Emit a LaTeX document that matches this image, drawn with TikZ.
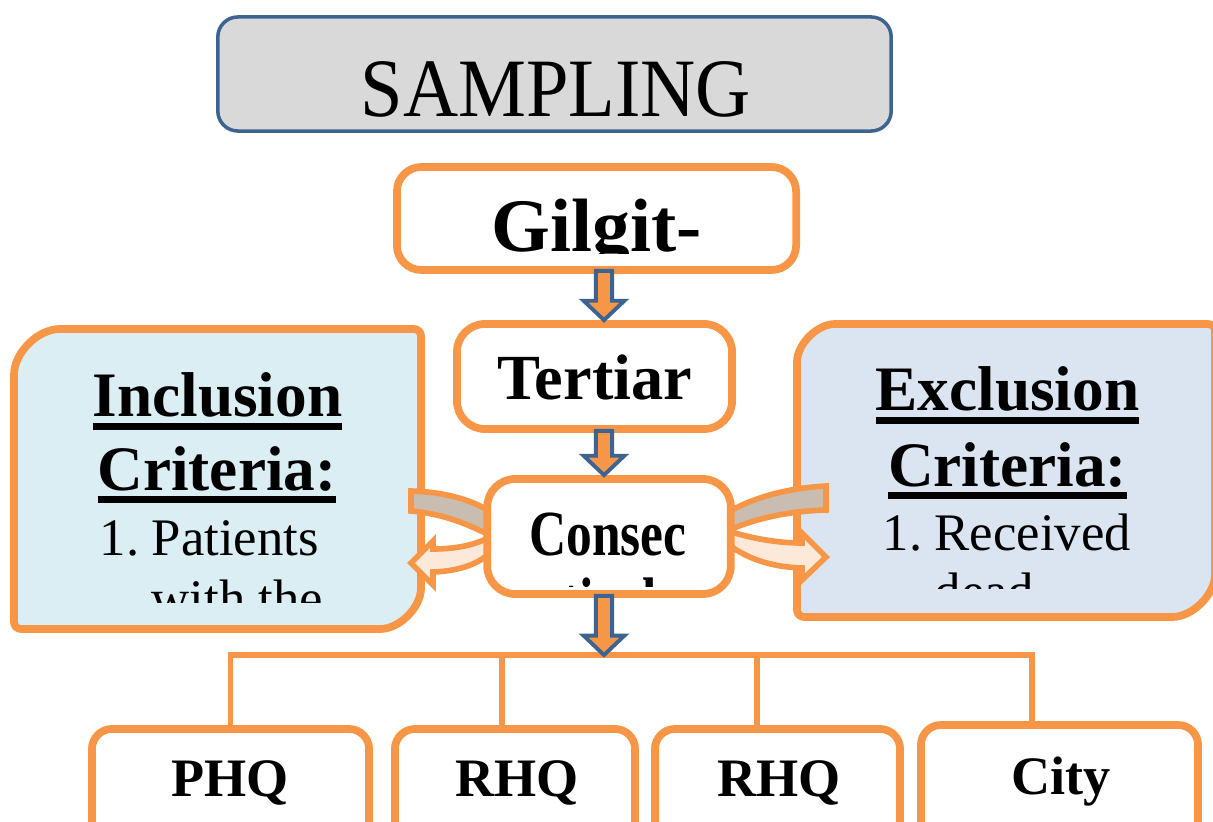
\documentclass[tikz,border=0pt]{standalone}
\usepackage{graphicx}
\usepackage{fontspec}
\setmainfont{Liberation Serif}
\usetikzlibrary{positioning, calc}

\definecolor{boxorange}{HTML}{F79646}
\definecolor{headblue}{HTML}{3D6390}
\definecolor{headgray}{HTML}{D9D9D9}
\definecolor{inclblue}{HTML}{DAEEF3}
\definecolor{exclblue}{HTML}{DBE5F1}
\definecolor{bandgray}{HTML}{C9BDB1}
\definecolor{bandpeach}{HTML}{FDE9D9}

\newcommand{\headfont}{\fontsize{23.6pt}{26pt}\selectfont}
\newcommand{\regionfont}{\fontsize{21.5pt}{24pt}\selectfont\bfseries}
\newcommand{\stepfont}{\fontsize{18.3pt}{20pt}\selectfont\bfseries}
\newcommand{\critfont}{\fontsize{18pt}{20pt}\selectfont\bfseries}
\newcommand{\itemfont}{\fontsize{15pt}{17pt}\selectfont}
\newcommand{\sitefont}{\fontsize{15.4pt}{17pt}\selectfont\bfseries}
\newcommand{\critul}[1]{\setbox0=\hbox{#1}\rlap{\rule[-3.7pt]{\wd0}{2pt}}\box0}
\newcommand{\blockdown}[2]{%
  \draw[flowarrow] let \p1=(#1), \p2=(#2) in
    (\x1-2.3pt,\y1) -- (\x1+2.3pt,\y1) -- (\x1+2.3pt,\y2+5.5pt) -- (\x1+5.8pt,\y2+5.5pt)
    -- (\x1,\y2) -- (\x1-5.8pt,\y2+5.5pt) -- (\x1-2.3pt,\y2+5.5pt) -- cycle;}

\begin{document}
\begin{tikzpicture}[x=0.01cm, y=-0.01cm,
  headbox/.style={draw=headblue, line width=1pt, fill=headgray, rounded corners=5.7pt},
  flowbox/.style={draw=boxorange, line width=2.2pt, fill=white, rounded corners=8pt},
  sitebox/.style={flowbox, rounded corners=5.7pt, minimum height=1.2cm},
  critbox/.style={draw=boxorange, line width=2.2pt, rounded corners=2pt},
  bandarrow/.style={draw=boxorange, line width=1.6pt, line join=miter},
  flowarrow/.style={draw=headblue, fill=boxorange, line width=1.1pt, line join=miter},
  bracket/.style={draw=boxorange, line width=1.7pt},
  txt/.style={inner sep=0pt, anchor=base}]
\useasboundingbox (0,0) rectangle (1213,822);

% title
\node (sampling) [headbox, minimum width=6.73cm, minimum height=1.14cm] at (554.5,74) {};
\node (samplingtxt) [txt] at (556,117) {\headfont\scalebox{0.92}[1]{SAMPLING}};

% flow boxes
\node (gilgit) [flowbox, rounded corners=7pt, minimum width=3.99cm, minimum height=1.03cm] at (596.5,218.5) {};
\node (tertiar) [flowbox, minimum width=2.75cm, minimum height=1.05cm] at (594.5,376.5) {};
\node (tertiartxt) [txt] at (595,400) {\stepfont Tertiar};
\begin{scope}
  \clip (400,172) rectangle (792,254);
  \node (gilgittxt) [txt] at (596.5,252) {\regionfont Gilgit-};
\end{scope}

% criteria boxes
\draw[critbox, fill=inclblue] (14,382) arc[start angle=180, end angle=270, radius=53]
  -- (421,329) -- (421,581) arc[start angle=0, end angle=90, radius=48] -- (14,629) -- cycle;
\draw[critbox, fill=exclblue] (797,369) arc[start angle=180, end angle=270, radius=45]
  -- (1215,324) -- (1215,567) arc[start angle=0, end angle=90, radius=50] -- (797,617) -- cycle;
\begin{scope}
  \clip (20,335) rectangle (415,602);
  \node (incltitle) [txt] at (217.5,417) {\critfont\critul{Inclusion}};
  \node (inclcrit) [txt] at (217,490) {\critfont\critul{Criteria:}};
  \node (inclitem) [txt, anchor=base west] at (99,555) {\itemfont\makebox[0.52cm][l]{1.}Patients};
  \node (inclmore) [txt, anchor=base west] at (151,616) {\itemfont with the};
\end{scope}
\begin{scope}
  \clip (803,330) rectangle (1210,588);
  \node (excltitle) [txt] at (1007.5,411) {\critfont\critul{Exclusion}};
  \node (exclcrit) [txt] at (1007.5,486) {\critfont\critul{Criteria:}};
  \node (exclitem) [txt, anchor=base west] at (882,550) {\itemfont\makebox[0.52cm][l]{1.}Received};
  \node (exclmore) [txt, anchor=base west] at (934,609) {\itemfont dead};
\end{scope}

% curved arrows into the criteria
\draw[bandarrow, fill=bandgray] (411,491) .. controls (445,492) and (475,500) .. (495,515)
  -- (495,538) .. controls (470,525) and (445,514) .. (411,511) -- cycle;
\draw[bandarrow, fill=bandpeach] (495,534) .. controls (478,545) and (456,549) .. (433,549)
  -- (433,541) -- (411,563) -- (433,585) -- (433,572) .. controls (465,571) and (487,560) .. (495,546) -- cycle;
\draw[bandarrow, fill=bandgray] (826,486) .. controls (790,488) and (755,496) .. (725,514)
  -- (725,532) .. controls (755,518) and (790,511) .. (826,510) -- cycle;
\draw[bandarrow, fill=bandpeach] (725,530) .. controls (750,538) and (775,543) .. (802,543)
  -- (802,533) -- (826,557) -- (802,580) -- (802,568) .. controls (770,567) and (745,558) .. (725,542) -- cycle;

\node (consec) [flowbox, minimum width=2.435cm, minimum height=1.15cm] at (609,536.5) {};
\begin{scope}
  \clip (492,484) rectangle (726,586);
  \node (consectxt) [txt] at (608,555) {\stepfont\scalebox{0.8}[1]{Consec}};
  \node (consecmore) [txt] at (608,622) {\stepfont\scalebox{0.8}[1]{utively}};
\end{scope}

% sites
\node (phq) [sitebox, minimum width=2.77cm] at (230.5,789) {};
\node (rhqa) [sitebox, minimum width=2.40cm] at (515,789) {};
\node (rhqb) [sitebox, minimum width=2.45cm] at (777.5,789) {};
\node (city) [sitebox, minimum width=2.77cm] at (1059.5,785) {};
\node (phqtxt) [txt] at (230,796) {\sitefont PHQ};
\node (rhqatxt) [txt] at (517,796) {\sitefont RHQ};
\node (rhqbtxt) [txt] at (779,796) {\sitefont RHQ};
\node (citytxt) [txt] at (1061,794) {\sitefont City};

% tree
\coordinate (spine) at (604,0);
\coordinate (bus) at (604,655);
\coordinate (rhqatop) at ($(rhqa.north)+(-13,0)$);
\coordinate (rhqbtop) at ($(rhqb.north)+(-20.5,0)$);
\coordinate (citytop) at ($(city.north)+(-27.5,0)$);
\draw[bracket] (phq.north) |- (bus) -| (citytop);
\draw[bracket] (rhqatop) -- (rhqatop |- bus);
\draw[bracket] (rhqbtop) -- (rhqbtop |- bus);

% block arrows
\blockdown{$(gilgit.south -| spine)+(0,-3)$}{tertiar.north -| spine}
\blockdown{$(tertiar.south -| spine)+(0,-2)$}{consec.north -| spine}
\blockdown{$(consec.south -| spine)+(0,-2)$}{bus}
\end{tikzpicture}
\end{document}
